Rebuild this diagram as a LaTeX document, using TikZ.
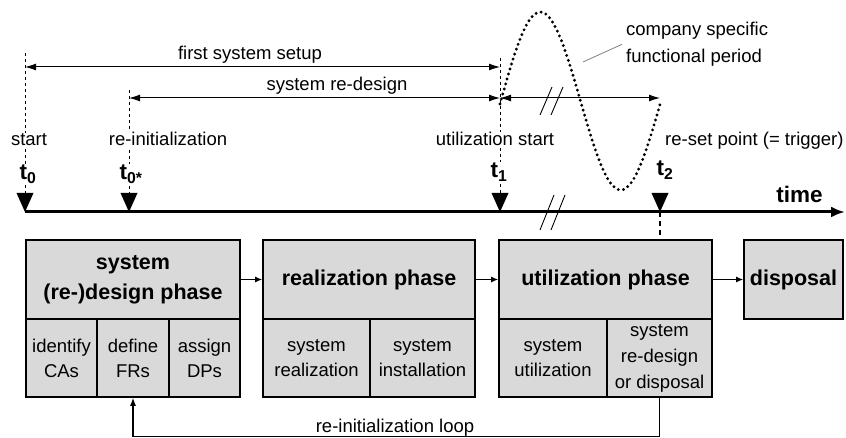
\documentclass[tikz,border=0pt]{standalone}
\usepackage{fontspec}
\setmainfont{Liberation Sans}
\usetikzlibrary{arrows.meta,positioning}
\definecolor{phasegray}{RGB}{217,217,217}
\tikzset{
  phase/.style={draw,line width=1.6pt,fill=phasegray,minimum height=79pt,inner sep=0pt,align=center,
    font=\fontsize{21.5}{30}\selectfont\bfseries},
  task/.style={draw,line width=1.6pt,fill=phasegray,minimum height=78pt,inner sep=0pt,align=center,
    font=\fontsize{18.5}{25}\selectfont},
  lbl/.style={font=\fontsize{18.5}{24}\selectfont,inner sep=1pt,anchor=base},
  tick/.style={lbl,fill=white},
  tname/.style={font=\fontsize{22.5}{26}\selectfont\bfseries,fill=white,inner sep=1pt,anchor=base},
  flow/.style={line width=1.3pt,-{Latex[length=7pt,width=6pt]}},
  span/.style={line width=1pt,{Latex[length=11pt,width=7pt]}-{Latex[length=11pt,width=7pt]}},
  guide/.style={line width=0.8pt,dash pattern=on 3pt off 3pt},
  wave/.style={line width=3.2pt,line cap=round,dash pattern=on 0pt off 5.2pt},
  brk/.style={line width=0.9pt}
}
\begin{document}
\begin{tikzpicture}[x=1pt,y=-1pt]
  \useasboundingbox (0,0) rectangle (846,438);

  % dashed guides behind the tick labels
  \draw[guide] (25,53) -- (25,193);
  \draw[guide] (129,90) -- (129,193);
  \draw[guide] (500,58) -- (500,193);

  % time axis
  \draw[line width=3pt,-{Latex[length=14pt,width=11pt]}] (25,212) -- (845,212);
  \node[tname] (time) at (799.5,203) {time};
  \foreach \x in {25,129,500,660}
    \fill (\x,212) -- ++(-8.5,-19) -- ++(17,0) -- cycle;
  \coordinate (t2tip) at (660,212);

  \node[tick] (start) at (29,146) {start};
  \node[tick] (reinit) at (168,146) {re-initialization};
  \node[tick] (ustart) at (495,146) {utilization start};
  \node[lbl,anchor=base west] (reset) at (664,146) {re-set point (= trigger)};
  \node[tname] (t0) at (28,180) {t\textsubscript{0}};
  \node[tname] (t0s) at (131,180) {t\textsubscript{0*}};
  \node[tname] (t1) at (499,178) {t\textsubscript{1}};
  \node[tname] (t2) at (665,176) {t\textsubscript{2}};

  % periods
  \draw[span] (25,67) -- (500,67);
  \node[lbl] (setup) at (250,60) {first system setup};
  \draw[span] (129,98) -- (500,98);
  \node[lbl] (redes) at (337,91) {system re-design};
  \draw[span] (500,98) -- (660,98);
  \draw[brk] (540,115) -- ++(12,-28);
  \draw[brk] (551,115) -- ++(12,-28);
  \draw[brk] (540,230) -- ++(14,-35);
  \draw[brk] (551,230) -- ++(14,-35);

  % functional period
  \draw[wave] (500,104) sin (540.25,12) cos (580.5,101) sin (620.75,190) cos (661,101);
  \node[lbl,anchor=north west,align=left,font=\fontsize{18.5}{27}\selectfont,inner sep=0pt]
    (cfp) at (626,22) {company specific\\functional period};
  \coordinate (cfptip) at (583,62);
  \draw[gray,line width=0.8pt] ([xshift=-4pt]cfp.west) -- (cfptip);

  % phases
  \node[phase,minimum width=214pt] (des) at (133,279.5) {system\\(re-)design phase};
  \node[task,minimum width=71pt] (ca) at (61.5,358) {identify\\CAs};
  \node[task,minimum width=72pt] (fr) at (133,358) {define\\FRs};
  \node[task,minimum width=71pt] (dp) at (204.5,358) {assign\\DPs};

  \node[phase,minimum width=212pt] (real) at (369,279.5) {realization phase};
  \node[task,minimum width=107pt] (sr) at (316.5,358) {system\\realization};
  \node[task,minimum width=105pt] (si) at (422.5,358) {system\\installation};

  \node[phase,minimum width=213pt] (util) at (605.5,279.5) {utilization phase};
  \node[task,minimum width=108pt] (su) at (553,358) {system\\utilization};
  \node[task,minimum width=105pt,font=\fontsize{18.5}{26}\selectfont] (rd) at (659.5,358) {system\\re-design\\or disposal};

  \node[phase,minimum width=99pt] (disp) at (793.5,279.5) {disposal};

  \draw[flow] (des) -- (real);
  \draw[flow] (real) -- (util);
  \draw[flow] (util) -- (disp);
  \draw[line width=1.6pt,dash pattern=on 5pt off 4pt] (t2tip) -- (t2tip |- util.north);

  % loop back
  \draw[line width=1.3pt,-{Latex[length=8pt,width=6pt]}] (rd.south) -- ++(0,39) -| (fr.south);
  \node[lbl] (loop) at (395,432) {re-initialization loop};
\end{tikzpicture}
\end{document}
